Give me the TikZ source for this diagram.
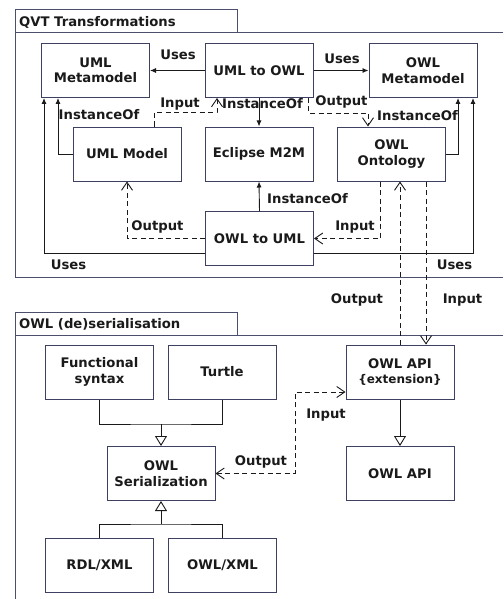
\documentclass[tikz,border=0pt]{standalone}
\usepackage{fontspec}
\setmainfont{DejaVu Sans}
\usetikzlibrary{arrows.meta}

\definecolor{boxline}{HTML}{3D4060}
\definecolor{frameline}{HTML}{4B4E6D}
\definecolor{ink}{HTML}{1A1A1A}

\tikzset{
  txt/.style={text=ink, font=\fontsize{13.2}{15.5}\selectfont\bfseries},
  elem/.style={txt, draw=boxline, line width=1pt, fill=white, minimum width=108pt,
    minimum height=54pt, inner sep=2pt, align=center},
  lbl/.style={txt, anchor=base, inner sep=0pt},
  pkgtitle/.style={txt, anchor=base west, inner sep=0pt},
  frame/.style={draw=frameline, line width=1pt},
  uses/.style={draw=ink, line width=0.9pt, -{Latex[length=6pt,width=5pt]}},
  dep/.style={draw=ink, line width=0.9pt, dash pattern=on 5pt off 3.5pt,
    -{Straight Barb[length=8pt,width=11pt,line width=0.9pt]}},
  deptwo/.style={draw=ink, line width=0.9pt, dash pattern=on 5pt off 3.5pt,
    {Straight Barb[length=8pt,width=11pt,line width=0.9pt]}-{Straight Barb[length=8pt,width=11pt,line width=0.9pt]}},
  gline/.style={draw=ink, line width=0.9pt},
  gen/.style={draw=ink, line width=0.9pt,
    -{Triangle[open, length=10pt, width=12pt, fill=white, line width=0.9pt]}},
}

\begin{document}
\begin{tikzpicture}[x=1pt, y=-1pt]
\useasboundingbox (0,0) rectangle (503,599);

% ---------- package: QVT Transformations ----------
\draw[frame] (15,10) rectangle (237,33);
\draw[frame] (503,33) -- (15,33) -- (15,277) -- (503,277);
\node[pkgtitle] (qvttitle) at (19,27) {QVT Transformations};

\node[elem] (umlmm)    at (95.5,70.5) {UML\\Metamodel};
\node[elem] (u2o)      at (259,70.5)  {UML to OWL};
\node[elem] (owlmm)    at (423,70.5)  {OWL\\Metamodel};
\node[elem] (umlmodel) at (127,154)   {UML Model};
\node[elem] (m2m)      at (259,154)   {Eclipse M2M};
\node[elem] (onto)     at (391.5,154) {OWL\\Ontology};
\node[elem] (o2u)      at (259.5,238.5) {OWL to UML};

% UML to OWL uses both metamodels and is an instance of Eclipse M2M
\draw[uses] (u2o.west) -- (umlmm.east);
\draw[uses] (u2o.east) -- (owlmm.west);
\draw[uses] (u2o.south) -- (m2m.north);

% models are instances of their metamodels
\draw[uses] (umlmodel.west) -| ([xshift=-37.5pt]umlmm.south);
\draw[uses] (onto.east) -| ([xshift=35pt]owlmm.south);

% OWL to UML uses both metamodels and is an instance of Eclipse M2M
\draw[uses] ([yshift=-14.5pt]o2u.west) -| ([xshift=-51.5pt]umlmm.south);
\draw[uses] ([yshift=-14.5pt]o2u.east) -| ([xshift=50pt]owlmm.south);
\draw[uses] (o2u.north) -- (m2m.south);

% transformation inputs and outputs
\draw[dep] ([xshift=27pt]umlmodel.north) -- ++(0,-14) -| ([xshift=-42pt]u2o.south);
\draw[dep] ([xshift=49pt]u2o.south) -- ++(0,15) -| ([xshift=-23.5pt]onto.north);
\draw[dep] (o2u.west) -| (umlmodel.south);
\draw[dep] ([xshift=-11.5pt]onto.south) |- (o2u.east);

\node[lbl] (l1)  at (178,60)    {Uses};
\node[lbl] (l2)  at (342,64)    {Uses};
\node[lbl] (l3)  at (180,107)   {Input};
\node[lbl] (l4)  at (262.5,109) {InstanceOf};
\node[lbl] (l5)  at (341.5,106) {Output};
\node[lbl] (l6)  at (417.5,121) {InstanceOf};
\node[lbl] (l7)  at (99,119)    {InstanceOf};
\node[lbl] (l8)  at (307.5,203) {InstanceOf};
\node[lbl] (l9)  at (157.5,230) {Output};
\node[lbl] (l10) at (355,230)   {Input};
\node[lbl] (l11) at (68.5,269)  {Uses};
\node[lbl] (l12) at (454.5,269) {Uses};

% ---------- package: OWL (de)serialisation ----------
\draw[frame] (15,312) rectangle (237,335);
\draw[frame] (503,335) -- (15,335) -- (15,600);
\node[pkgtitle] (owltitle) at (19,328) {OWL (de)serialisation};

\node[elem] (fs)     at (99.5,372)  {Functional\\syntax};
\node[elem] (turtle) at (222,372)   {Turtle};
\node[elem] (ext)    at (400,372)   {OWL API\\{\fontsize{12}{15.5}\selectfont\{extension\}}};
\node[elem] (ser)    at (161,473.5) {OWL\\Serialization};
\node[elem] (api)    at (400,473.5) {OWL API};
\node[elem] (rdl)    at (99.5,565)  {RDL/XML};
\node[elem] (owlxml) at (222.5,565) {OWL/XML};

% exchange between the ontology and the API extension
\draw[dep] (ext.north) -- (ext.north |- onto.south);
\draw[dep] ([xshift=34.5pt]onto.south) -- ([xshift=34.5pt]onto.south |- ext.north);

% serialisation formats
\coordinate (j1) at (161,424);
\coordinate (j2) at (161,524);
\draw[gline] (fs.south) |- (j1) -| (turtle.south);
\draw[gen] (j1) -- (ser.north);
\draw[gline] (rdl.north) |- (j2) -| (owlxml.north);
\draw[gen] (j2) -- (ser.south);
\draw[gen] (ext.south) -- (api.north);

\coordinate (bend) at (295,392);
\draw[deptwo] (ser.east) -| (bend) -- ([yshift=-20pt]ext.west);

\node[lbl] (l13) at (357,303)   {Output};
\node[lbl] (l14) at (462.5,303) {Input};
\node[lbl] (l15) at (326,418)   {Input};
\node[lbl] (l16) at (261,465)   {Output};
\end{tikzpicture}
\end{document}
